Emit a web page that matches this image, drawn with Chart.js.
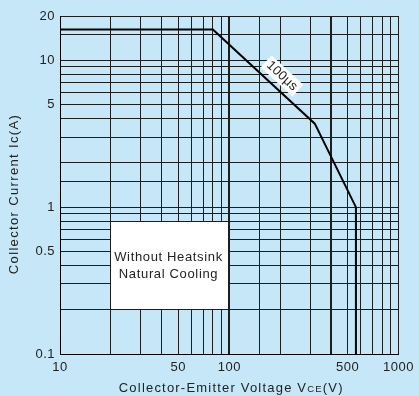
<!DOCTYPE html>
<html lang="en">
<head>
    <meta charset="UTF-8">
    <title>Safe Operating Area</title>
    <script src="https://cdn.jsdelivr.net/npm/chart.js"></script>
    <style>
        html, body { margin: 0; padding: 0; background: #c6e7f7; }
        .wrap { width: 419px; height: 396px; }
    </style>
</head>
<body>
    <div class="wrap"><canvas id="soaChart"></canvas></div>

    <script>
        // SOA curve (Vce in V, Ic in A)
        const voltage = [10, 80, 320, 560, 560];
        const current = [16.2, 16.2, 3.7, 1, 0.1];

        // tick labels that are printed
        const xTickLabels = [10, 50, 100, 500, 1000];
        const yTickLabels = [0.1, 0.5, 1, 5, 10, 20];

        // curve label and note box (data units)
        const pulseLabel = '100μs';
        const pulseLabelAt = [205, 7.8];
        const noteLines = ['Without Heatsink', 'Natural Cooling'];
        const noteBoxV = [20, 100];
        const noteBoxI = [0.2, 0.8];

        const FONT = '"Liberation Sans", Arial, Helvetica, sans-serif';
        const TXT = '#222';

        const isLabel = (list, v) => list.some(t => Math.abs(t - v) / t < 1e-6);

        const overlay = {
            id: 'overlay',
            beforeDraw(chart) {
                // slightly spaced lettering, like the original print
                chart.ctx.letterSpacing = '0.5px';
            },
            beforeDatasetsDraw(chart) {
                const { ctx, scales: { x, y } } = chart;
                const l = Math.round(x.getPixelForValue(noteBoxV[0]) - 0.5) + 1;
                const r = Math.round(x.getPixelForValue(noteBoxV[1]) - 1);
                const t = Math.round(y.getPixelForValue(noteBoxI[1]) - 0.5) + 1;
                const b = Math.round(y.getPixelForValue(noteBoxI[0]) - 0.5);
                ctx.save();
                ctx.fillStyle = '#fff';
                ctx.fillRect(l, t, r - l, b - t);
                ctx.fillStyle = TXT;
                ctx.font = '13px ' + FONT;
                ctx.letterSpacing = '0.65px';
                ctx.textAlign = 'center';
                ctx.textBaseline = 'middle';
                noteLines.forEach((s, i) => {
                    ctx.fillText(s, (l + r) / 2 - 1, (t + b) / 2 + (i - (noteLines.length - 1) / 2) * 17);
                });
                ctx.restore();
            },
            afterDatasetsDraw(chart) {
                const { ctx, scales: { x, y } } = chart;
                // angle of the 100us segment
                const dx = x.getPixelForValue(voltage[2]) - x.getPixelForValue(voltage[1]);
                const dy = y.getPixelForValue(current[2]) - y.getPixelForValue(current[1]);
                const ang = Math.atan2(dy, dx);
                const px = x.getPixelForValue(pulseLabelAt[0]);
                const py = y.getPixelForValue(pulseLabelAt[1]);
                ctx.save();
                ctx.translate(px, py);
                ctx.rotate(ang);
                ctx.font = '13px ' + FONT;
                ctx.letterSpacing = '0.3px';
                const w = ctx.measureText(pulseLabel).width;
                ctx.fillStyle = '#fff';
                ctx.fillRect(-w / 2 - 3, -8, w + 6, 16);
                ctx.fillStyle = TXT;
                ctx.textAlign = 'center';
                ctx.textBaseline = 'middle';
                ctx.fillText(pulseLabel, 0, 0);
                ctx.restore();
            },
            afterDraw(chart) {
                const { ctx, chartArea } = chart;
                ctx.save();
                ctx.fillStyle = TXT;
                ctx.textBaseline = 'alphabetic';
                ctx.letterSpacing = '1.2px';
                // x title with small caps CE
                const parts = [['Collector-Emitter Voltage V', 13], ['CE', 9.5], ['(V)', 13]];
                let total = 0;
                parts.forEach(p => { ctx.font = p[1] + 'px ' + FONT; total += ctx.measureText(p[0]).width; });
                let cx = (chartArea.left + chartArea.right) / 2 - total / 2 + 2;
                parts.forEach(p => {
                    ctx.font = p[1] + 'px ' + FONT;
                    ctx.textAlign = 'left';
                    ctx.fillText(p[0], cx, 392);
                    cx += ctx.measureText(p[0]).width;
                });
                // y title
                ctx.letterSpacing = '1.35px';
                ctx.translate(18, 194);
                ctx.rotate(-Math.PI / 2);
                ctx.font = '13px ' + FONT;
                ctx.textAlign = 'center';
                ctx.fillText('Collector Current Ic(A)', 0, 0);
                ctx.restore();
            }
        };

        const gridColor = '#1e1e1e';

        new Chart(document.getElementById('soaChart'), {
            type: 'line',
            data: {
                datasets: [{
                    data: voltage.map((v, i) => ({ x: v, y: current[i] })),
                    borderColor: '#000',
                    borderWidth: 2,
                    pointRadius: 0,
                    tension: 0,
                    fill: false
                }]
            },
            options: {
                responsive: true,
                maintainAspectRatio: false,
                animation: false,
                layout: { padding: { left: 0, right: 20, top: 16, bottom: 0 } },
                plugins: {
                    legend: { display: false },
                    tooltip: { enabled: false }
                },
                scales: {
                    x: {
                        type: 'logarithmic',
                        min: 10,
                        max: 1000,
                        afterFit(scale) { scale.height = 42; },
                        border: { display: true, color: '#000', width: 1 },
                        grid: {
                            drawTicks: false,
                            color: gridColor,
                            lineWidth: ctx => (ctx.tick && (ctx.tick.value === 100 || ctx.tick.value === 400)) ? 2 : 1
                        },
                        ticks: {
                            autoSkip: false,
                            maxRotation: 0,
                            padding: 6,
                            color: TXT,
                            font: { family: FONT, size: 13 },
                            callback: v => isLabel(xTickLabels, v) ? String(v) : ''
                        }
                    },
                    y: {
                        type: 'logarithmic',
                        min: 0.1,
                        max: 20,
                        afterFit(scale) { scale.width = 60; },
                        border: { display: true, color: '#000', width: 1 },
                        grid: {
                            drawTicks: false,
                            color: gridColor,
                            lineWidth: 1
                        },
                        ticks: {
                            autoSkip: false,
                            padding: 5,
                            color: TXT,
                            font: { family: FONT, size: 13 },
                            callback: v => isLabel(yTickLabels, v) ? String(Number(v.toPrecision(6))) : ''
                        }
                    }
                }
            },
            plugins: [overlay]
        });
    </script>
</body>
</html>
